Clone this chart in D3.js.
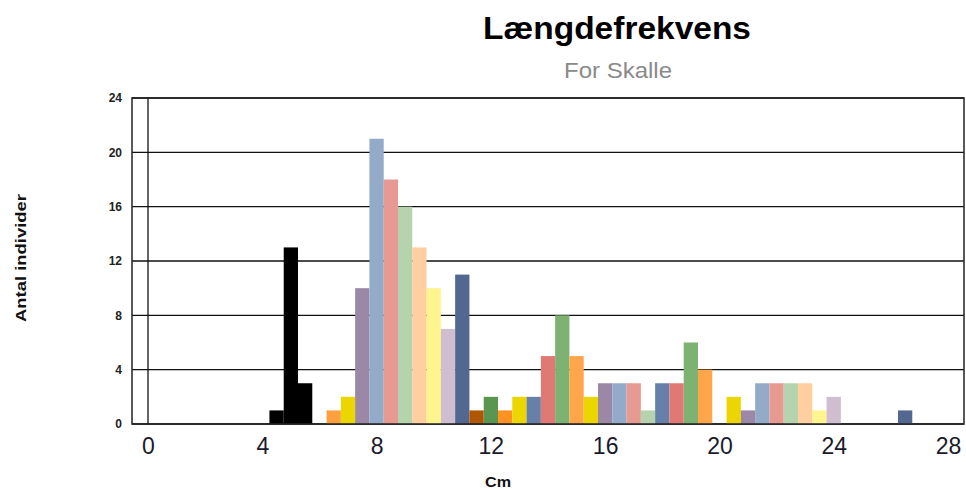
<!DOCTYPE html>
<html>
<head>
<meta charset="utf-8">
<script src="https://cdn.jsdelivr.net/npm/d3@7"></script>
<style>
  body { margin: 0; background: #fff; }
  text { font-family: "Liberation Sans", Arial, sans-serif; }
</style>
</head>
<body>
<div id="container"></div>
<script>
// Data: bin centre (cm), count, colour per bar
const lengths = [4.5, 5, 5.5, 6.5, 7, 7.5, 8, 8.5, 9, 9.5, 10, 10.5, 11, 11.5, 12, 12.5, 13, 13.5,
  14, 14.5, 15, 15.5, 16, 16.5, 17, 17.5, 18, 18.5, 19, 19.5, 20.5, 21, 21.5, 22, 22.5, 23, 23.5, 24, 26.5];
const counts = [1, 13, 3, 1, 2, 10, 21, 18, 16, 13, 10, 7, 11, 1, 2, 1, 2, 2,
  5, 8, 5, 2, 3, 3, 3, 1, 3, 3, 6, 4, 2, 1, 3, 3, 3, 3, 1, 2, 1];
const barColors = ["#000000", "#000000", "#000000", "#ffa040", "#ecd600", "#9b88a6", "#94aac9", "#e79a92",
  "#b5d4ad", "#ffcfa0", "#fff48e", "#cfbdd0", "#536891", "#b05500", "#5a9650", "#ff9222", "#ecd600", "#6780aa",
  "#e07874", "#7db272", "#ffa64a", "#ecd600", "#9b88a6", "#94aac9", "#e79a92", "#b5d4ad", "#6780aa", "#e07874",
  "#7db272", "#ffa64a", "#ecd600", "#9b88a6", "#94aac9", "#e79a92", "#b5d4ad", "#ffcfa0", "#fff48e", "#cfbdd0", "#536891"];
const xTicks = [0, 4, 8, 12, 16, 20, 24, 28];
const yTicks = [0, 4, 8, 12, 16, 20, 24];

const data = lengths.map((d, i) => ({ x: d, n: counts[i], c: barColors[i] }));

const width = 966;
const height = 490;
const plotL = 132, plotR = 964, plotT = 98, plotB = 424;
const binW = 0.5;

const xScale = d3.scaleLinear().domain([-0.56, 28.56]).range([plotL, plotR]);
const yScale = d3.scaleLinear().domain([0, 24]).range([plotB, plotT]);

const svg = d3.select("#container")
  .append("svg")
  .attr("width", width)
  .attr("height", height);

// gridlines
svg.append("g")
  .selectAll("line")
  .data(yTicks)
  .enter()
  .append("line")
  .attr("x1", plotL).attr("x2", plotR)
  .attr("y1", (d) => yScale(d)).attr("y2", (d) => yScale(d))
  .attr("stroke", "#111").attr("stroke-width", 1.3);

// vertical line at x = 0
svg.append("line")
  .attr("x1", xScale(0)).attr("x2", xScale(0))
  .attr("y1", plotT).attr("y2", plotB)
  .attr("stroke", "#111").attr("stroke-width", 1.3);

// bars
svg.append("g")
  .selectAll("rect")
  .data(data)
  .enter()
  .append("rect")
  .attr("x", (d) => xScale(d.x - binW / 2))
  .attr("width", (d) => xScale(d.x + binW / 2) - xScale(d.x - binW / 2))
  .attr("y", (d) => yScale(d.n))
  .attr("height", (d) => yScale(0) - yScale(d.n))
  .attr("fill", (d) => d.c);

// frame
svg.append("rect")
  .attr("x", plotL).attr("y", plotT)
  .attr("width", plotR - plotL).attr("height", plotB - plotT)
  .attr("fill", "none").attr("stroke", "#222").attr("stroke-width", 1.5);

// axes (labels only)
const yAxis = d3.axisLeft(yScale).tickValues(yTicks).tickSize(0).tickPadding(10);
const gy = svg.append("g").attr("transform", `translate(${plotL},0)`).call(yAxis);
gy.select(".domain").remove();
gy.selectAll("text")
  .attr("font-size", 12).attr("font-weight", "bold").attr("fill", "#222")
  .attr("font-family", "Liberation Sans, Arial, sans-serif");

const xAxis = d3.axisBottom(xScale).tickValues(xTicks).tickSize(0).tickPadding(14);
const gx = svg.append("g").attr("transform", `translate(0,${plotB})`).call(xAxis);
gx.select(".domain").remove();
gx.selectAll("text")
  .attr("font-size", 23).attr("fill", "#1a1a2a")
  .attr("font-family", "Liberation Sans, Arial, sans-serif");

// titles
svg.append("text")
  .attr("x", 617).attr("y", 39)
  .attr("text-anchor", "middle")
  .attr("font-size", 31).attr("font-weight", "bold").attr("fill", "#000")
  .attr("textLength", 268).attr("lengthAdjust", "spacingAndGlyphs")
  .text("Længdefrekvens");

svg.append("text")
  .attr("x", 618).attr("y", 78)
  .attr("text-anchor", "middle")
  .attr("font-size", 22).attr("fill", "#8a8a8a")
  .attr("textLength", 108).attr("lengthAdjust", "spacingAndGlyphs")
  .text("For Skalle");

svg.append("text")
  .attr("transform", "translate(26,258) rotate(-90)")
  .attr("text-anchor", "middle")
  .attr("font-size", 15).attr("font-weight", "bold").attr("fill", "#111")
  .attr("textLength", 128).attr("lengthAdjust", "spacingAndGlyphs")
  .text("Antal individer");

svg.append("text")
  .attr("x", 498).attr("y", 487)
  .attr("text-anchor", "middle")
  .attr("font-size", 15).attr("font-weight", "bold").attr("fill", "#111")
  .attr("textLength", 26).attr("lengthAdjust", "spacingAndGlyphs")
  .text("Cm");
</script>
</body>
</html>
